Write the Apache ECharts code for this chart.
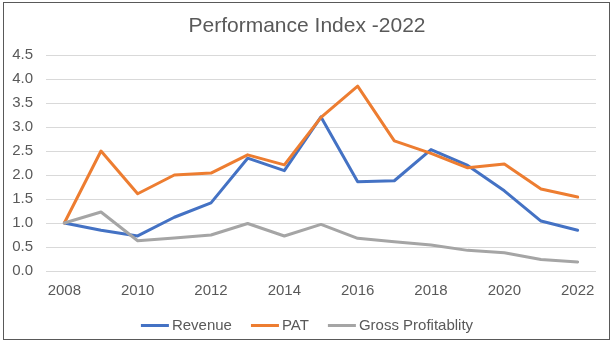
<!DOCTYPE html>
<html><head><meta charset="utf-8">
<script src="https://cdn.jsdelivr.net/npm/echarts@6/dist/echarts.min.js"></script>
<style>
html,body{margin:0;padding:0;background:#fff;}
#frame{position:absolute;left:3px;top:2px;width:607px;height:338px;border:1px solid #595959;box-sizing:border-box;}
#c{position:absolute;left:0;top:0;width:614px;height:346px;}
</style></head>
<body>
<div id="frame"></div>
<div id="c"></div>
<script>
const years = ['2008','2009','2010','2011','2012','2013','2014','2015','2016','2017','2018','2019','2020','2021','2022'];
const revenue = [1.0,0.85,0.73,1.12,1.42,2.35,2.09,3.21,1.86,1.88,2.53,2.2,1.67,1.04,0.85];
const pat = [1.0,2.5,1.61,2.0,2.04,2.42,2.21,3.2,3.85,2.71,2.45,2.15,2.23,1.71,1.54];
const gross = [1.0,1.23,0.63,0.69,0.75,0.99,0.73,0.97,0.68,0.61,0.54,0.43,0.38,0.24,0.19];
const font = 'Liberation Sans, Arial, sans-serif';
const chart = echarts.init(document.getElementById('c'), null, {renderer:'canvas'});
const mk = (name, data, color) => ({name, type:'line', data, symbol:'none', smooth:false,
  lineStyle:{color, width:3, cap:'round', join:'round'}, itemStyle:{color}});
chart.setOption({
  animation:false,
  title:{text:'Performance Index -2022', left:'center', top:11,
    textStyle:{fontFamily:font, fontSize:21, fontWeight:'normal', color:'#595959'}},
  grid:{left:46, right:18, top:55, bottom:75},
  legend:{top:313, left:'center', itemWidth:28, itemHeight:3, itemGap:19, icon:'rect',
    textStyle:{fontFamily:font, fontSize:15, color:'#595959', padding:[0,0,0,-2]},
    data:['Revenue','PAT','Gross Profitablity']},
  xAxis:{type:'category', data:years, boundaryGap:true,
    axisLine:{show:false}, axisTick:{show:false},
    axisLabel:{interval:1, fontFamily:font, fontSize:15, color:'#595959', margin:12}},
  yAxis:{type:'value', min:0, max:4.5, interval:0.5,
    axisLine:{show:false}, axisTick:{show:false},
    splitLine:{lineStyle:{color:'#d9d9d9', width:1}},
    axisLabel:{fontFamily:font, fontSize:15, color:'#595959', margin:13, formatter:v=>v.toFixed(1)}},
  series:[mk('Revenue',revenue,'#4472C4'), mk('PAT',pat,'#ED7D31'), mk('Gross Profitablity',gross,'#A5A5A5')]
});
</script>
</body></html>
